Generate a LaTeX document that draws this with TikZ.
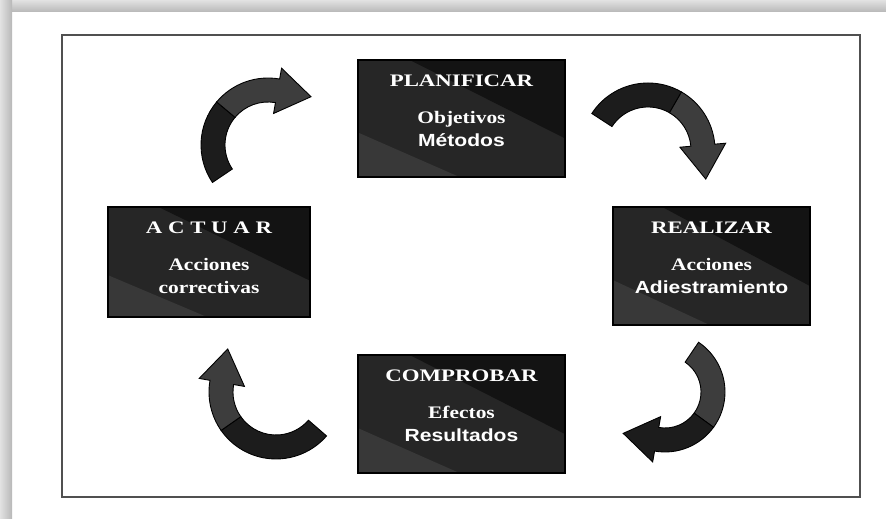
\documentclass[tikz,border=0pt]{standalone}
\usepackage{fontspec}
\usepackage{tikz}
\usetikzlibrary{calc, positioning}
\setmainfont{Liberation Serif}
\newfontfamily\titlefont[FakeStretch=1.3]{Liberation Serif}
\newfontfamily\bodyfont[FakeStretch=1.22]{Liberation Serif}
\newfontfamily\bodysans[FakeStretch=1.2]{Liberation Sans}
\definecolor{frameLight}{HTML}{E2E2E2}
\definecolor{frameDark}{HTML}{B8B8B8}
\definecolor{borderGray}{HTML}{505050}
\definecolor{boxDark}{HTML}{131313}
\definecolor{boxMid}{HTML}{262626}
\definecolor{boxLight}{HTML}{383838}
\definecolor{arrowDark}{HTML}{1C1C1C}
\definecolor{arrowLight}{HTML}{3D3D3D}

% sizes of the curved block arrows (in picture units)
\def\arrowhalf{12}
\def\headhalf{23}
\def\headlen{34}

% #1 centre, #2 radius, #3 tail angle, #4 split angle, #5 head angle, #6 tail colour, #7 head colour
\newcommand{\cycarrow}[7]{%
  \pgfmathsetmacro{\rOut}{#2+\arrowhalf}%
  \pgfmathsetmacro{\rIn}{#2-\arrowhalf}%
  \pgfmathsetmacro{\rHo}{#2+\headhalf}%
  \pgfmathsetmacro{\rHi}{#2-\headhalf}%
  \pgfmathsetmacro{\tang}{#5+90}%
  \filldraw[fill=#6, draw=black, line width=0.5pt]
    ($(#1)+(#3:\rOut)$) arc[start angle=#3, end angle=#4, radius=\rOut]
    -- ($(#1)+(#4:\rIn)$) arc[start angle=#4, end angle=#3, radius=\rIn] -- cycle;
  \filldraw[fill=#7, draw=black, line width=0.5pt]
    ($(#1)+(#4:\rOut)$) arc[start angle=#4, end angle=#5, radius=\rOut]
    -- ($(#1)+(#5:\rHo)$) -- ($(#1)+(#5:#2)+(\tang:\headlen)$)
    -- ($(#1)+(#5:\rHi)$) -- ($(#1)+(#5:\rIn)$)
    arc[start angle=#5, end angle=#4, radius=\rIn] -- cycle;
}

\begin{document}
\begin{tikzpicture}[
    x=0.02cm, y=-0.02cm,
    box/.style={draw=black, line width=0.6pt, fill=boxMid, inner sep=0pt,
                path picture={
                  \fill[boxDark] let \p1=(path picture bounding box.north west),
                      \p2=(path picture bounding box.south east) in
                      ({\x1+0.25*(\x2-\x1)},\y1) -- (\x2,\y1) -- (\x2,{\y1+0.67*(\y2-\y1)}) -- cycle;
                  \fill[boxLight] let \p1=(path picture bounding box.north west),
                      \p2=(path picture bounding box.south east) in
                      (\x1,{\y1+0.62*(\y2-\y1)}) -- ({\x1+0.49*(\x2-\x1)},\y2) -- (\x1,\y2) -- cycle;
                }},
    boxtext/.style={text=white, align=center, anchor=base, inner sep=0pt,
                    font=\fontsize{10pt}{13.3pt}\selectfont\bfseries}
]

\useasboundingbox (0,0) rectangle (886,519);
\fill[white] (0,0) rectangle (886,519);

% shadow frame
\shade[top color=frameLight, bottom color=frameDark] (0,0) rectangle (886,12);
\shade[left color=frameLight, right color=frameDark] (0,0) rectangle (12,519);

% border
\draw[borderGray, line width=1.1pt] (62,35) rectangle (860,497);

% Stages
\node[box, minimum width=4.14cm, minimum height=2.34cm] (plan) at (461.5,118.5) {};
\node[box, minimum width=3.94cm, minimum height=2.36cm] (real) at (711.5,266) {};
\node[box, minimum width=4.14cm, minimum height=2.36cm] (comp) at (461.5,414) {};
\node[box, minimum width=4.04cm, minimum height=2.2cm] (act) at (209,262) {};

% base anchor sits on the last line
\node[boxtext] (planText) at ([yshift=-1.75cm]plan.north) {{\titlefont PLANIFICAR}\\[0.27cm]{\bodyfont Objetivos}\\{\bodysans Métodos}};
\node[boxtext] (realText) at ([yshift=-1.75cm]real.north) {{\titlefont REALIZAR}\\[0.27cm]{\bodyfont Acciones}\\{\bodysans Adiestramiento}};
\node[boxtext] (compText) at ([yshift=-1.75cm]comp.north) {{\titlefont COMPROBAR}\\[0.27cm]{\bodyfont Efectos}\\{\bodysans Resultados}};
\node[boxtext] (actText) at ([yshift=-1.75cm]act.north) {{\titlefont A C T U A R}\\[0.27cm]{\bodyfont Acciones}\\{\bodyfont correctivas}};

% Cycle arrows
\coordinate (actPlan) at (268,145);
\coordinate (planReal) at (648,150);
\coordinate (realComp) at (665,392);
\coordinate (compAct) at (276,392);

\cycarrow{actPlan}{55}{146}{220}{280}{arrowDark}{arrowLight}
\cycarrow{planReal}{55}{213}{300}{355}{arrowDark}{arrowLight}
\cycarrow{realComp}{48}{304}{396}{460}{arrowLight}{arrowDark}
\cycarrow{compAct}{55}{41}{145}{190}{arrowDark}{arrowLight}

\end{tikzpicture}
\end{document}
